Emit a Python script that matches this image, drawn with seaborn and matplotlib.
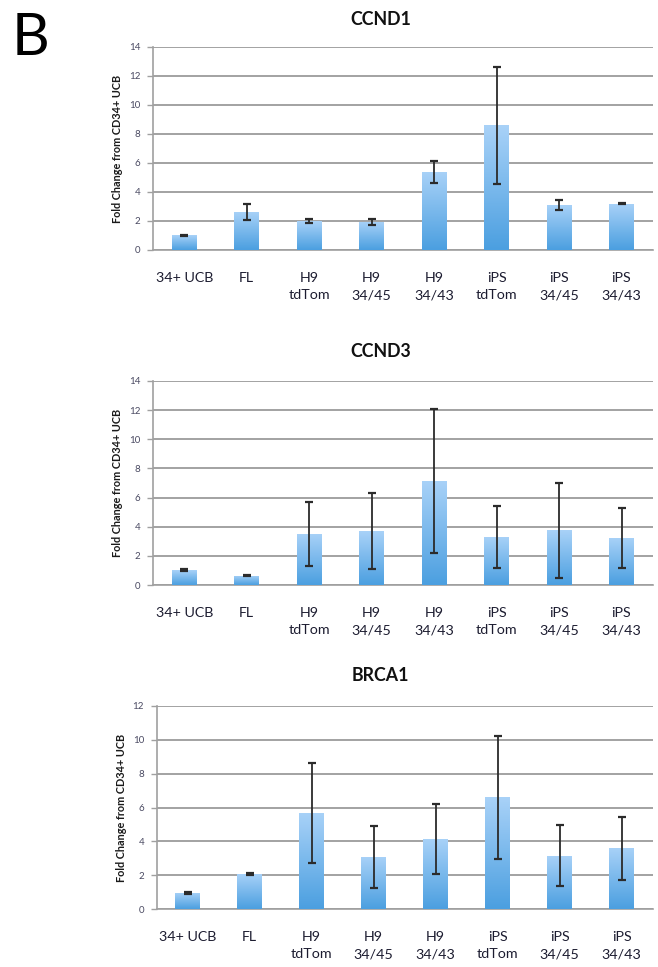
import numpy as np
import pandas as pd
import matplotlib
matplotlib.use("Agg")
import matplotlib.pyplot as plt
from matplotlib.colors import LinearSegmentedColormap
import seaborn as sns

sns.set_theme(style="white")
plt.rcParams["font.family"] = ["Lato", "DejaVu Sans"]

categories = ["34+ UCB", "FL", "H9\ntdTom", "H9\n34/45", "H9\n34/43",
              "iPS\ntdTom", "iPS\n34/45", "iPS\n34/43"]

ccnd1_mean = [1.0, 2.65, 2.0, 1.95, 5.4, 8.6, 3.12, 3.2]
ccnd1_err = [0.05, 0.55, 0.12, 0.2, 0.75, 4.05, 0.33, 0.05]

ccnd3_mean = [1.02, 0.65, 3.5, 3.7, 7.15, 3.3, 3.75, 3.25]
ccnd3_err = [0.05, 0.06, 2.2, 2.6, 4.95, 2.15, 3.25, 2.05]

brca1_mean = [0.97, 2.07, 5.7, 3.1, 4.15, 6.6, 3.15, 3.6]
brca1_err = [0.05, 0.07, 2.95, 1.82, 2.04, 3.65, 1.8, 1.85]

panels = [
    ("CCND1", ccnd1_mean, ccnd1_err, 14, [0.2325, 0.7415, 0.7595, 0.2099], 0.980),
    ("CCND3", ccnd3_mean, ccnd3_err, 14, [0.2325, 0.3950, 0.7595, 0.2110], 0.636),
    ("BRCA1", brca1_mean, brca1_err, 12, [0.2380, 0.0597, 0.7540, 0.2103], 0.301),
]

bar_cmap = LinearSegmentedColormap.from_list("bar_grad", ["#4b9fe0", "#a9d2f8"])
gradient = np.linspace(1, 0, 256).reshape(-1, 1)

grid_gray = "#a2a2a2"
axis_gray = "#a0a0a0"

fig = plt.figure(figsize=(6.58, 9.67), dpi=100)

for title, means, errs, ymax, rect, title_y in panels:
    ax = fig.add_axes(rect)
    df = pd.DataFrame({"group": categories, "fold": means})
    sns.barplot(data=df, x="group", y="fold", ax=ax, errorbar=None,
                width=0.4, color="#7ab8ec", saturation=1, zorder=3)

    # vertical blue gradient inside every bar
    for patch in ax.patches:
        x0, w, h = patch.get_x(), patch.get_width(), patch.get_height()
        im = ax.imshow(gradient, extent=[x0, x0 + w, 0, h], origin="upper",
                       aspect="auto", cmap=bar_cmap, vmin=0, vmax=1, zorder=3)
        im.set_clip_path(patch)
        patch.set_facecolor("none")
        patch.set_edgecolor("none")

    centers = [p.get_x() + p.get_width() / 2 for p in ax.patches]
    ax.errorbar(centers, means, yerr=errs, fmt="none", ecolor="#2b2b2b",
                elinewidth=1.3, capsize=3.0, capthick=1.6, zorder=5)

    ax.set_xlim(-0.5, len(categories) - 0.5)
    ax.set_ylim(0, ymax)
    ax.set_yticks(np.arange(0, ymax + 1, 2))
    ax.yaxis.grid(True, color=grid_gray, linewidth=1.4, zorder=0)
    ax.set_axisbelow(True)

    ax.set_xticks(range(len(categories)))
    ax.set_xticklabels(categories, fontsize=10.3, color="#1c1c30",
                       linespacing=1.5)
    ax.set_xticks(np.arange(-0.5, len(categories), 1.0), minor=True)
    ax.tick_params(axis="x", which="major", length=0, pad=16)
    ax.tick_params(axis="x", which="minor", length=4, width=1.0,
                   color=axis_gray, direction="out")
    ax.tick_params(axis="y", labelsize=7, labelcolor="#4a4a62", length=4,
                   width=1.0, color=axis_gray, direction="out", pad=5,
                   left=True)

    for side in ("top", "right"):
        ax.spines[side].set_visible(False)
    for side in ("left", "bottom"):
        ax.spines[side].set_color(axis_gray)
        ax.spines[side].set_linewidth(1.2)

    ax.set_xlabel("")
    ax.set_ylabel("Fold Change from CD34+ UCB", fontsize=7.8,
                  fontweight="bold", color="#1a1a1a", labelpad=4)

    fig.text(0.578, title_y, title, ha="center", va="center",
             fontsize=12.8, fontweight="bold", color="#111111")

fig.text(0.046, 0.960, "B", ha="center", va="center", fontsize=42,
         color="#000000")

fig.savefig("out.png", dpi=100)
